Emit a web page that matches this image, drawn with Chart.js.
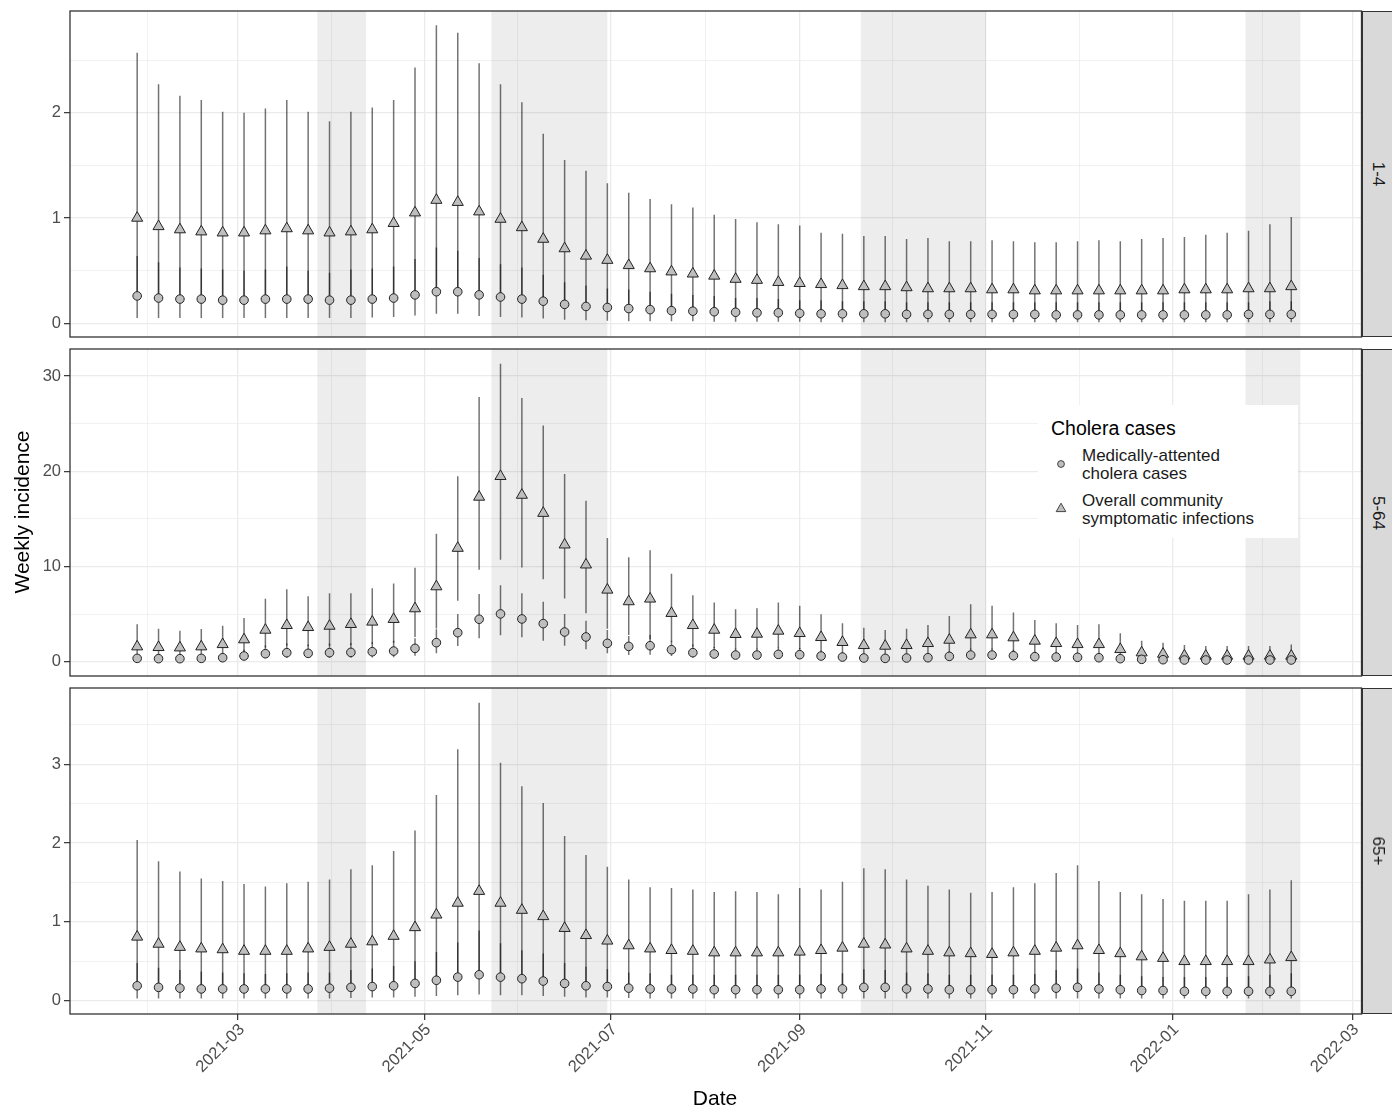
<!DOCTYPE html>
<html>
<head>
<meta charset="utf-8">
<title>Weekly incidence</title>
<script src="https://cdn.jsdelivr.net/npm/chart.js@4.4.1/dist/chart.umd.min.js"></script>
<style>
  body { margin: 0; background: #fff; font-family: "Liberation Sans", Arial, sans-serif; }
  #wrap { position: relative; width: 1392px; height: 1109px; overflow: hidden; background: #fff; }
  #wrap canvas { position: absolute; left: 0; }
  .strip { position: absolute; left: 1362px; width: 32px; box-sizing: border-box; background: #d9d9d9; border: 1.3px solid #333; }
  .strip span { position: absolute; left: 50%; top: 50%; transform: translate(-50%, -50%) rotate(90deg); font-size: 17px; color: #1a1a1a; white-space: nowrap; }
  .title { position: absolute; font-size: 21px; color: #000; text-align: center; line-height: 24px; white-space: nowrap; }
  #legend { position: absolute; left: 1038px; top: 405px; width: 260px; height: 133px; background: #fff; }
  #legend div { position: absolute; white-space: nowrap; }
  #legend svg { position: absolute; }
</style>
</head>
<body>
<div id="wrap">
  <canvas id="p1" width="1392" height="343" style="top:0px"></canvas>
  <canvas id="p2" width="1392" height="339" style="top:343px"></canvas>
  <canvas id="p3" width="1392" height="427" style="top:682px"></canvas>

  <div class="strip" style="top:11px;height:326px"><span id="s1"></span></div>
  <div class="strip" style="top:349px;height:327px"><span id="s2"></span></div>
  <div class="strip" style="top:688px;height:326px"><span id="s3"></span></div>

  <div class="title" style="left:-178px;top:500px;width:400px;transform:rotate(-90deg)">Weekly incidence</div>
  <div class="title" style="left:515px;top:1086px;width:400px">Date</div>

  <div id="legend">
    <div style="left:13px;top:12px;font-size:19.5px;line-height:22px;color:#000">Cholera cases</div>
    <svg style="left:16px;top:52px" width="14" height="14"><circle cx="7" cy="7" r="3.4" fill="#bebebe" stroke="#333" stroke-width="0.9"/></svg>
    <div style="left:44px;top:42px;font-size:17px;line-height:17.6px;color:#1a1a1a">Medically-attented<br>cholera cases</div>
    <svg style="left:16px;top:96px" width="14" height="14"><polygon points="7,2.2 11.8,10.6 2.2,10.6" fill="#bebebe" stroke="#333" stroke-width="0.9"/></svg>
    <div style="left:44px;top:87px;font-size:17px;line-height:17.6px;color:#1a1a1a">Overall community<br>symptomatic infections</div>
  </div>
</div>

<script>
// weekly estimates, one entry per week
const weeks = [
  "2021-01-27", "2021-02-03", "2021-02-10", "2021-02-17", "2021-02-24", "2021-03-03", "2021-03-10",
  "2021-03-17", "2021-03-24", "2021-03-31", "2021-04-07", "2021-04-14", "2021-04-21", "2021-04-28",
  "2021-05-05", "2021-05-12", "2021-05-19", "2021-05-26", "2021-06-02", "2021-06-09", "2021-06-16",
  "2021-06-23", "2021-06-30", "2021-07-07", "2021-07-14", "2021-07-21", "2021-07-28", "2021-08-04",
  "2021-08-11", "2021-08-18", "2021-08-25", "2021-09-01", "2021-09-08", "2021-09-15", "2021-09-22",
  "2021-09-29", "2021-10-06", "2021-10-13", "2021-10-20", "2021-10-27", "2021-11-03", "2021-11-10",
  "2021-11-17", "2021-11-24", "2021-12-01", "2021-12-08", "2021-12-15", "2021-12-22", "2021-12-29",
  "2022-01-05", "2022-01-12", "2022-01-19", "2022-01-26", "2022-02-02", "2022-02-09"
];

const facetLabels = ["1-4", "5-64", "65+"];
const seriesLabels = ["Medically-attented cholera cases", "Overall community symptomatic infections"];

// shaded periods
const shadeStart = ["2021-03-27", "2021-05-23", "2021-09-21", "2022-01-25"];
const shadeEnd = ["2021-04-12", "2021-06-30", "2021-11-01", "2022-02-12"];

// x axis ticks
const xTickDates = ["2021-01-01", "2021-03-01", "2021-05-01", "2021-07-01", "2021-09-01", "2021-11-01", "2022-01-01", "2022-03-01"];
const xTickLabels = ["2021-01", "2021-03", "2021-05", "2021-07", "2021-09", "2021-11", "2022-01", "2022-03"];

// y axis ticks per facet
const yTicks14 = [0, 1, 2];
const yTicks564 = [0, 10, 20, 30];
const yTicks65 = [0, 1, 2, 3];

// age 1-4
const med14 = [0.26,0.24,0.23,0.23,0.22,0.22,0.23,0.23,0.23,0.22, 0.22,0.23,0.24,0.27,0.30,0.30,0.27,0.25,0.23,0.21,
  0.18,0.16,0.15,0.14,0.13,0.12,0.115,0.11,0.105,0.10, 0.10,0.095,0.09,0.09,0.09,0.09,0.085,0.085,0.085,0.085,
  0.085,0.085,0.085,0.08,0.08,0.08,0.08,0.08,0.08,0.08, 0.08,0.08,0.085,0.085,0.085];
const med14Lo = [0.05,0.05,0.05,0.05,0.05,0.05,0.05,0.05,0.05,0.05, 0.05,0.055,0.06,0.075,0.09,0.09,0.07,0.06,0.055,0.045,
  0.035,0.03,0.025,0.02,0.02,0.02,0.02,0.015,0.015,0.015, 0.015,0.015,0.01,0.01,0.01,0.01,0.01,0.01,0.01,0.01,
  0.01,0.01,0.01,0.01,0.01,0.01,0.01,0.01,0.01,0.01, 0.01,0.01,0.01,0.01,0.01];
const med14Hi = [0.64,0.58,0.53,0.52,0.51,0.50,0.51,0.54,0.50,0.48, 0.51,0.52,0.54,0.61,0.72,0.69,0.62,0.56,0.53,0.46,
  0.39,0.36,0.33,0.32,0.30,0.28,0.27,0.26,0.24,0.24, 0.23,0.22,0.22,0.21,0.21,0.21,0.20,0.20,0.20,0.20,
  0.20,0.20,0.20,0.20,0.20,0.20,0.20,0.20,0.20,0.20, 0.20,0.20,0.20,0.21,0.21];
const com14 = [1.00,0.92,0.89,0.87,0.86,0.86,0.88,0.90,0.88,0.86, 0.87,0.89,0.95,1.05,1.17,1.15,1.06,0.99,0.91,0.80,
  0.71,0.64,0.60,0.55,0.52,0.49,0.47,0.45,0.42,0.41, 0.39,0.38,0.37,0.36,0.35,0.35,0.34,0.33,0.33,0.33,
  0.32,0.32,0.31,0.31,0.31,0.31,0.31,0.31,0.31,0.32, 0.32,0.32,0.33,0.33,0.35];
const com14Lo = [0.29,0.27,0.26,0.26,0.25,0.25,0.26,0.26,0.26,0.25, 0.25,0.26,0.27,0.30,0.34,0.34,0.30,0.28,0.26,0.23,
  0.20,0.18,0.17,0.16,0.15,0.14,0.13,0.125,0.12,0.115, 0.11,0.11,0.105,0.10,0.10,0.10,0.10,0.10,0.10,0.10,
  0.10,0.10,0.10,0.10,0.10,0.10,0.10,0.10,0.10,0.10, 0.10,0.10,0.10,0.10,0.10];
const com14Hi = [2.57,2.27,2.16,2.12,2.01,2.00,2.04,2.12,2.01,1.92, 2.01,2.05,2.12,2.43,2.83,2.76,2.47,2.27,2.10,1.80,
  1.55,1.45,1.33,1.24,1.18,1.13,1.10,1.03,0.99,0.96, 0.94,0.93,0.86,0.85,0.83,0.83,0.80,0.81,0.78,0.78,
  0.79,0.78,0.77,0.77,0.78,0.79,0.78,0.80,0.81,0.82, 0.84,0.86,0.88,0.94,1.01];

// age 5-64
const med564 = [0.35,0.32,0.32,0.35,0.42,0.60,0.84,0.95,0.88,0.95, 0.98,1.05,1.12,1.40,2.00,3.05,4.46,5.02,4.49,4.00,
  3.12,2.60,1.93,1.61,1.68,1.26,0.95,0.81,0.70,0.70, 0.77,0.74,0.60,0.49,0.39,0.35,0.39,0.42,0.56,0.70,
  0.70,0.63,0.53,0.49,0.46,0.42,0.32,0.25,0.21,0.18, 0.18,0.18,0.18,0.18,0.18];
const med564Lo = [0.15,0.14,0.14,0.15,0.18,0.26,0.36,0.40,0.38,0.40, 0.42,0.45,0.48,0.62,0.88,1.65,2.46,2.77,2.56,2.20,
  1.68,1.30,0.88,0.70,0.74,0.60,0.42,0.36,0.31,0.31, 0.34,0.33,0.27,0.22,0.17,0.15,0.17,0.19,0.25,0.31,
  0.31,0.28,0.23,0.22,0.20,0.19,0.14,0.11,0.09,0.08, 0.08,0.08,0.08,0.08,0.08];
const med564Hi = [0.75,0.70,0.70,0.75,0.90,1.25,1.70,1.90,1.80,1.90, 1.95,2.05,2.20,2.46,3.40,5.02,7.12,8.04,7.19,6.30,
  5.00,4.30,3.33,2.70,2.80,2.20,1.80,1.55,1.40,1.40, 1.50,1.45,1.20,1.00,0.80,0.75,0.80,0.85,1.10,1.40,
  1.40,1.25,1.05,1.00,0.95,0.85,0.65,0.55,0.45,0.40, 0.40,0.40,0.40,0.40,0.40];
const com564 = [1.58,1.51,1.47,1.58,1.82,2.32,3.33,3.82,3.61,3.75, 3.93,4.18,4.46,5.58,7.89,11.93,17.30,19.47,17.50,15.60,
  12.28,10.18,7.54,6.32,6.60,5.09,3.82,3.33,2.88,2.91, 3.23,2.98,2.56,2.04,1.72,1.65,1.72,1.93,2.28,2.84,
  2.84,2.53,2.18,1.93,1.82,1.82,1.30,0.95,0.81,0.63, 0.60,0.60,0.60,0.60,0.60];
const com564Lo = [0.70,0.68,0.66,0.70,0.80,1.05,1.50,1.70,1.62,1.68, 1.75,1.85,2.00,2.60,3.50,6.39,9.65,10.70,9.90,8.67,
  6.63,5.09,3.47,2.80,2.35,2.10,1.60,1.45,1.28,1.30, 1.45,1.33,1.15,0.92,0.77,0.74,0.77,0.86,1.02,1.27,
  1.27,1.13,0.97,0.86,0.81,0.81,0.58,0.43,0.36,0.28, 0.27,0.27,0.27,0.27,0.27];
const com564Hi = [3.93,3.47,3.26,3.44,3.79,4.60,6.60,7.61,6.88,7.19, 7.19,7.72,8.21,9.86,13.44,19.47,27.80,31.30,27.70,24.80,
  19.70,16.90,12.98,10.98,11.70,9.23,6.98,6.21,5.51,5.61, 6.21,5.89,4.98,4.04,3.58,3.33,3.47,3.86,4.81,6.04,
  5.89,5.16,4.39,4.04,3.86,3.93,2.98,2.21,2.00,1.75, 1.65,1.65,1.65,1.65,1.82];

// age 65+
const med65 = [0.19,0.17,0.16,0.15,0.15,0.15,0.15,0.15,0.15,0.16, 0.17,0.18,0.19,0.22,0.26,0.30,0.33,0.30,0.28,0.25,
  0.22,0.19,0.18,0.16,0.15,0.15,0.15,0.14,0.14,0.14, 0.14,0.14,0.15,0.15,0.17,0.17,0.15,0.15,0.14,0.14,
  0.14,0.14,0.15,0.16,0.17,0.15,0.14,0.13,0.13,0.12, 0.12,0.12,0.12,0.12,0.12];
const med65Lo = [0.03,0.03,0.03,0.03,0.03,0.03,0.03,0.03,0.03,0.03, 0.035,0.04,0.04,0.05,0.06,0.07,0.08,0.07,0.07,0.06,
  0.05,0.04,0.04,0.035,0.03,0.03,0.03,0.03,0.03,0.03, 0.03,0.03,0.03,0.03,0.03,0.03,0.03,0.03,0.03,0.03,
  0.03,0.03,0.03,0.03,0.03,0.03,0.03,0.03,0.03,0.03, 0.03,0.03,0.03,0.03,0.03];
const med65Hi = [0.48,0.42,0.39,0.37,0.36,0.35,0.34,0.35,0.36,0.36, 0.39,0.41,0.44,0.50,0.62,0.74,0.89,0.73,0.64,0.60,
  0.48,0.43,0.40,0.36,0.35,0.33,0.33,0.33,0.33,0.33, 0.33,0.33,0.34,0.35,0.40,0.39,0.36,0.35,0.33,0.33,
  0.33,0.33,0.34,0.39,0.41,0.36,0.33,0.31,0.30,0.30, 0.30,0.30,0.31,0.33,0.35];
const com65 = [0.81,0.72,0.68,0.66,0.65,0.63,0.63,0.63,0.66,0.68, 0.72,0.75,0.82,0.93,1.09,1.24,1.39,1.24,1.15,1.07,
  0.92,0.83,0.76,0.70,0.66,0.64,0.63,0.61,0.61,0.61, 0.61,0.62,0.64,0.67,0.72,0.71,0.66,0.63,0.61,0.60,
  0.59,0.61,0.63,0.67,0.70,0.64,0.60,0.56,0.54,0.50, 0.50,0.50,0.50,0.52,0.55];
const com65Lo = [0.21,0.19,0.18,0.17,0.17,0.17,0.17,0.17,0.17,0.18, 0.19,0.20,0.21,0.24,0.29,0.33,0.37,0.33,0.31,0.28,
  0.24,0.21,0.20,0.18,0.17,0.17,0.17,0.16,0.16,0.16, 0.16,0.16,0.17,0.17,0.19,0.19,0.17,0.17,0.16,0.16,
  0.16,0.16,0.17,0.18,0.19,0.17,0.16,0.15,0.15,0.14, 0.14,0.14,0.14,0.14,0.14];
const com65Hi = [2.04,1.77,1.64,1.55,1.52,1.48,1.45,1.49,1.51,1.54, 1.67,1.72,1.90,2.16,2.61,3.19,3.78,3.02,2.72,2.51,
  2.09,1.85,1.70,1.54,1.44,1.43,1.41,1.38,1.39,1.38, 1.35,1.43,1.41,1.51,1.68,1.67,1.54,1.46,1.41,1.37,
  1.38,1.44,1.49,1.62,1.72,1.52,1.38,1.35,1.29,1.27, 1.27,1.27,1.35,1.41,1.53];

const FONT = '"Liberation Sans", Arial, sans-serif';
Chart.defaults.font.family = FONT;

// days since 2021-01-01
function dayNum(s) {
  return (Date.parse(s + "T00:00:00Z") - Date.parse("2021-01-01T00:00:00Z")) / 864e5;
}

const xMin = dayNum("2021-01-05");
const xMax = dayNum("2022-03-04");

// major date ticks plus midpoints between them (minor grid)
function xTickObjects() {
  const out = [];
  xTickDates.forEach((d, i) => {
    const v = dayNum(d);
    out.push({ value: v, txt: xTickLabels[i] });
    if (i + 1 < xTickDates.length) {
      out.push({ value: (v + dayNum(xTickDates[i + 1])) / 2, minor: true });
    }
  });
  return out.filter(t => t.value >= xMin && t.value <= xMax);
}

function yTickObjects(major, min, max) {
  const step = major[1] - major[0];
  const out = [];
  major.forEach(v => {
    out.push({ value: v });
    out.push({ value: v + step / 2, minor: true });
  });
  return out.filter(t => t.value >= min && t.value <= max).sort((a, b) => a.value - b.value);
}

// stop label overflow from shrinking the panel
function noPad(s) {
  s.paddingTop = 0;
  s.paddingBottom = 0;
  s.paddingLeft = 0;
  s.paddingRight = 0;
}

// shading, error bars and panel border
function decorPlugin(p) {
  return {
    id: "decor",
    beforeDatasetsDraw(chart) {
      const { ctx, chartArea: a, scales: { x, y } } = chart;
      ctx.save();
      ctx.beginPath();
      ctx.rect(a.left, a.top, a.width, a.height);
      ctx.clip();
      ctx.fillStyle = "rgba(0,0,0,0.07)";
      shadeStart.forEach((s, i) => {
        const x0 = x.getPixelForValue(dayNum(s));
        const x1 = x.getPixelForValue(dayNum(shadeEnd[i]));
        ctx.fillRect(x0, a.top, x1 - x0, a.height);
      });
      ctx.strokeStyle = "rgba(0,0,0,0.55)";
      ctx.lineWidth = 1.5;
      [[p.medLo, p.medHi], [p.comLo, p.comHi]].forEach(([lo, hi]) => {
        weeks.forEach((w, i) => {
          const px = x.getPixelForValue(dayNum(w));
          ctx.beginPath();
          ctx.moveTo(px, y.getPixelForValue(lo[i]));
          ctx.lineTo(px, y.getPixelForValue(hi[i]));
          ctx.stroke();
        });
      });
      ctx.restore();
    },
    afterDraw(chart) {
      const { ctx, chartArea: a } = chart;
      ctx.save();
      ctx.strokeStyle = "#333";
      ctx.lineWidth = 1.3;
      ctx.strokeRect(a.left, a.top, a.width, a.height);
      ctx.restore();
    }
  };
}

function drawPanel(id, p) {
  const gridColor = "#ebebeb";
  new Chart(document.getElementById(id), {
    type: "scatter",
    data: {
      datasets: [
        {
          label: seriesLabels[0],
          data: weeks.map((w, i) => ({ x: dayNum(w), y: p.med[i] })),
          pointStyle: "circle",
          pointRadius: 4.3,
          backgroundColor: "#bebebe",
          borderColor: "#222",
          borderWidth: 1
        },
        {
          label: seriesLabels[1],
          data: weeks.map((w, i) => ({ x: dayNum(w), y: p.com[i] })),
          pointStyle: "triangle",
          pointRadius: 6.4,
          backgroundColor: "#bebebe",
          borderColor: "#222",
          borderWidth: 1
        }
      ]
    },
    options: {
      responsive: false,
      animation: false,
      events: [],
      devicePixelRatio: 1,
      layout: { autoPadding: false, padding: { left: 0, right: 30.5, top: p.padTop, bottom: 0 } },
      plugins: { legend: { display: false }, tooltip: { enabled: false } },
      scales: {
        x: {
          type: "linear",
          min: xMin,
          max: xMax,
          afterFit: s => { s.height = p.xHeight; noPad(s); },
          afterBuildTicks: s => { s.ticks = xTickObjects(); },
          border: { display: false },
          grid: {
            color: gridColor,
            lineWidth: c => (c.tick && c.tick.minor ? 0.7 : 1.3),
            drawTicks: p.showX,
            tickLength: 6,
            tickWidth: 1.2,
            tickColor: c => (c.tick && c.tick.minor ? "rgba(0,0,0,0)" : "#333")
          },
          ticks: {
            display: p.showX,
            autoSkip: false,
            minRotation: 45,
            maxRotation: 45,
            padding: 0,
            labelOffset: 4,
            color: "#4d4d4d",
            font: { size: 16.5 },
            callback: (v, i, t) => t[i].txt || ""
          }
        },
        y: {
          min: p.yMin,
          max: p.yMax,
          afterFit: s => { s.width = 70; noPad(s); },
          afterBuildTicks: s => { s.ticks = yTickObjects(p.yTicks, p.yMin, p.yMax); },
          border: { display: false },
          grid: {
            color: gridColor,
            lineWidth: c => (c.tick && c.tick.minor ? 0.7 : 1.3),
            tickLength: 6,
            tickWidth: 1.2,
            tickColor: c => (c.tick && c.tick.minor ? "rgba(0,0,0,0)" : "#333")
          },
          ticks: {
            autoSkip: false,
            padding: 3,
            color: "#4d4d4d",
            font: { size: 16.5 },
            callback: (v, i, t) => (t[i].minor ? "" : String(v))
          }
        }
      }
    },
    plugins: [decorPlugin(p)]
  });
}

drawPanel("p1", {
  med: med14, medLo: med14Lo, medHi: med14Hi, com: com14, comLo: com14Lo, comHi: com14Hi,
  yTicks: yTicks14, yMin: -0.13, yMax: 2.966, padTop: 11, xHeight: 6, showX: false
});
drawPanel("p2", {
  med: med564, medLo: med564Lo, medHi: med564Hi, com: com564, comLo: com564Lo, comHi: com564Hi,
  yTicks: yTicks564, yMin: -1.5, yMax: 32.84, padTop: 6, xHeight: 6, showX: false
});
drawPanel("p3", {
  med: med65, medLo: med65Lo, medHi: med65Hi, com: com65, comLo: com65Lo, comHi: com65Hi,
  yTicks: yTicks65, yMin: -0.168, yMax: 3.968, padTop: 6, xHeight: 95, showX: true
});

// facet strip labels
document.getElementById("s1").textContent = facetLabels[0];
document.getElementById("s2").textContent = facetLabels[1];
document.getElementById("s3").textContent = facetLabels[2];
</script>
</body>
</html>
